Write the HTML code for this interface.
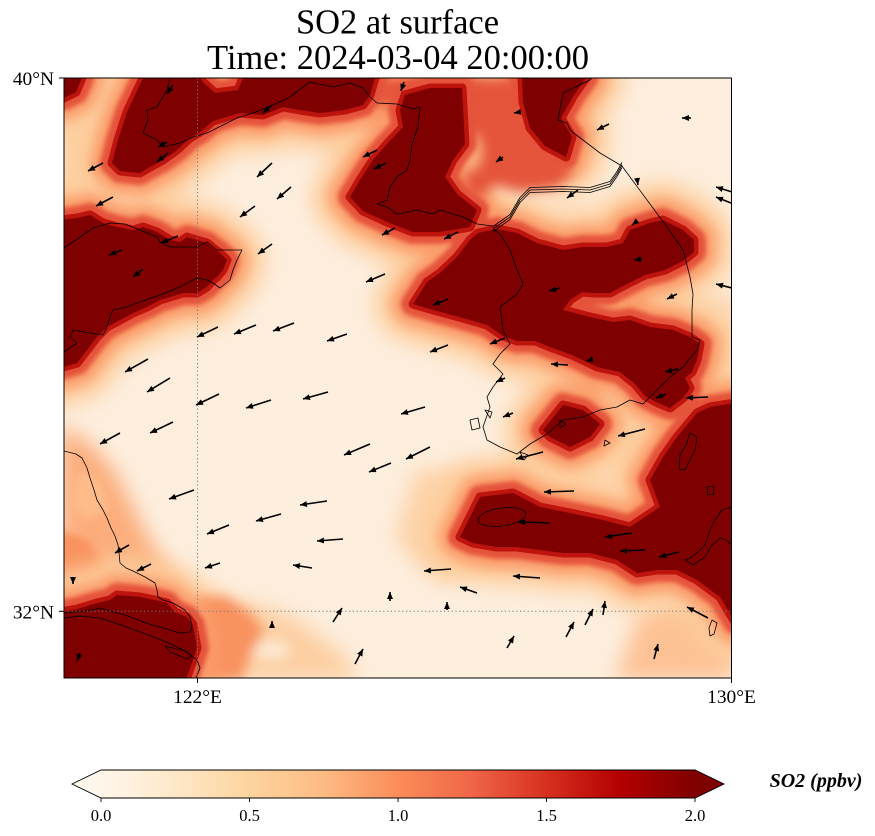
<!DOCTYPE html>
<html><head><meta charset="utf-8"><style>
html,body{margin:0;padding:0;background:#fff;}
svg{display:block;}
text{font-family:"Liberation Serif","DejaVu Serif",serif;fill:#000;}
</style></head><body>
<svg width="875" height="836" viewBox="0 0 875 836" xmlns="http://www.w3.org/2000/svg">
<defs>
<clipPath id="mc"><rect x="64" y="78" width="667.5" height="600"/></clipPath>
<filter id="b10" filterUnits="userSpaceOnUse" x="0" y="0" width="875" height="836"><feGaussianBlur stdDeviation="10"/></filter>
<filter id="b6" filterUnits="userSpaceOnUse" x="0" y="0" width="875" height="836"><feGaussianBlur stdDeviation="6"/></filter>
<filter id="b4" filterUnits="userSpaceOnUse" x="0" y="0" width="875" height="836"><feGaussianBlur stdDeviation="4"/></filter>
<filter id="b2" filterUnits="userSpaceOnUse" x="0" y="0" width="875" height="836"><feGaussianBlur stdDeviation="2.5"/></filter>
<linearGradient id="cb" x1="0" x2="1" y1="0" y2="0">
<stop offset="0" stop-color="#fff7ec"/><stop offset="0.125" stop-color="#fee8c8"/><stop offset="0.25" stop-color="#fdd49e"/><stop offset="0.375" stop-color="#fdbb84"/><stop offset="0.5" stop-color="#fc8d59"/><stop offset="0.625" stop-color="#ef6548"/><stop offset="0.75" stop-color="#d7301f"/><stop offset="0.875" stop-color="#b30000"/><stop offset="1" stop-color="#7f0000"/>
</linearGradient>
<marker id="ah" viewBox="0 0 7 6" refX="7" refY="3" markerWidth="7" markerHeight="6" markerUnits="userSpaceOnUse" orient="auto"><path d="M0,0 L7,3 L0,6 z" fill="#000"/></marker>
<g id="shapes">
<polygon points="64,78 82,78 76,92 64,98"/>
<polygon points="200,78 143,78 135,95 127,112 118,140 112,163 120,171 140,173 150,167 163,160 177,150 190,138 200,132 213,121 240,113 263,115 283,107 300,110 320,113 345,110 363,105 370,95 375,78 243,78 238,90 215,93 203,82"/>
<polygon points="405,95 430,88 462,88 465,144 453,160 445,177 457,194 477,210 470,227 440,232 413,232 387,222 363,211 350,197 360,180 373,160 387,144 403,127 400,110"/>
<polygon points="522,78 586,78 574,95 561,118 572,137 566,157 545,146 530,128 523,102"/>
<polygon points="413,304 427,282 440,273 457,257 470,240 478,233 497,229 517,233 537,243 563,250 583,247 607,247 623,243 630,230 650,223 663,220 683,230 694,240 694,252 683,261 665,270 645,275 625,285 610,293 593,293 582,292 570,300 563,310 590,317 613,322 630,320 650,327 673,330 690,337 700,344 697,360 692,372 685,378 690,388 683,398 670,408 658,403 645,396 635,384 620,372 597,367 572,355 550,347 535,341 517,341 503,336 487,325 463,318 437,311"/>
<polygon points="543,430 563,405 583,410 600,424 590,437 570,447 550,437"/>
<polygon points="460,537 480,497 513,493 540,507 570,513 603,520 630,527 660,507 650,480 663,457 677,437 697,413 710,407 735,403 735,622 720,597 697,580 677,570 657,570 637,573 617,560 590,553 563,553 540,550 517,547 497,547 473,543"/>
<polygon points="60,220 77,218 90,215 103,223 117,227 133,230 143,227 157,232 170,240 180,242 187,237 197,240 207,243 213,248 220,253 227,260 223,270 217,277 213,280 207,287 197,293 183,293 170,297 160,300 147,307 133,313 120,320 107,327 97,337 87,350 77,363 60,368"/>
<polygon points="60,612 77,609 97,603 110,600 117,595 140,597 155,600 167,603 175,612 187,617 193,625 197,648 192,663 185,682 60,682"/>
</g>
</defs>

<rect width="875" height="836" fill="#fff"/>

<g clip-path="url(#mc)">
<rect x="64" y="78" width="668" height="600" fill="#fdeedd"/>
<g filter="url(#b10)">
<polygon points="60,95 118,98 122,165 105,208 60,218" fill="#fdcf9f"/>
<polygon points="60,425 92,445 114,470 130,500 147,535 164,562 182,588 205,612 170,602 140,596 110,596 80,602 60,607" fill="#fcad7c"/>
<polygon points="230,598 290,615 345,655 358,680 230,680" fill="#fdcfa2"/>
<polygon points="640,612 700,596 735,586 735,680 615,680" fill="#fdc294"/>
<polygon points="415,470 470,468 500,560 440,585 395,540" fill="#fdd3a8"/>
<polygon points="700,300 735,290 735,410 700,400" fill="#fdd9b4"/>
</g>
<g filter="url(#b4)">
<polygon points="60,530 88,540 108,570 118,600 60,606" fill="#f9935f"/>
<polygon points="80,470 100,480 110,510 85,520 70,500" fill="#fdbc8a"/>
</g>
<use href="#shapes" fill="#fdcd9d" stroke="#fdcd9d" stroke-width="76" stroke-linejoin="round" filter="url(#b10)"/>
<g filter="url(#b6)">
<polygon points="197,598 225,596 252,614 264,632 250,655 242,680 197,680" fill="#f8925e"/>
<ellipse cx="272" cy="650" rx="18" ry="10" fill="#fde8d2"/>
</g>
<use href="#shapes" fill="#fb9c6a" stroke="#fb9c6a" stroke-width="44" stroke-linejoin="round" filter="url(#b6)"/>
<g filter="url(#b6)">
<polygon points="360,78 530,78 527,105 532,130 548,148 566,160 572,175 555,188 520,192 495,185 478,200 466,192 462,150 452,120 440,100 410,100 380,108" fill="#e5553a"/>
<ellipse cx="470" cy="152" rx="11" ry="18" fill="#fdb383"/>
</g>
<use href="#shapes" fill="#e5533a" stroke="#e5533a" stroke-width="24" stroke-linejoin="round" filter="url(#b2)"/>
<use href="#shapes" fill="#bd140e" stroke="#bd140e" stroke-width="9" stroke-linejoin="round"/>
<use href="#shapes" fill="#7f0000"/>

<g fill="none" stroke="#000" stroke-width="0.8" stroke-linejoin="round">
<path d="M64,451 L76,454 L82,458 L87,468 L90,478 L94,490 L97,500 L103,510 L107,518 L111,528 L115,536 L118,545 L119,553 L120,563 L126,568 L133,571 L145,577 L155,583 L157,590 L158,597 L163,600 L173,603 L185,610 L190,617 L192,627 L190,632 L180,633 L167,629 L153,625 L143,622 L125,615 L110,611 L100,608 L87,611 L64,613"/>
<path d="M64,618 L80,616 L100,618 L127,627 L143,633 L167,642 L187,652 L197,660 L200,668 L196,678"/>
<path d="M165,646 L185,651 L192,656 L187,659 L170,652 Z"/>
<path d="M64,248 L83,235 L93,228 L110,223 L125,224 L140,230 L157,237 L160,242 L170,247 L197,247 L207,242 L217,250 L242,250 L237,260 L233,270 L230,280 L220,288 L213,283 L207,280 L197,278 L180,287 L160,295 L140,302 L127,307 L113,310 L110,317 L107,327 L103,335 L90,333 L73,330 L70,337 L77,343 L64,352"/>
<path d="M170,78 L167,90 L157,107 L147,110 L148,120 L143,133 L157,140 L163,147 L180,143 L193,137 L207,133 L223,125 L237,118 L253,113 L273,105 L290,97 L303,87 L310,82 L333,87 L350,83 L363,88 L370,97 L377,103 L397,104 L413,109 L420,107 L418,127 L412,144 L410,160 L407,170 L397,177 L390,187 L387,200 L377,204 L387,207 L397,214 L417,210 L433,214 L440,210 L463,217 L477,224 L493,226"/>
<path d="M493,229 L500,234 L510,250 L517,270 L523,284 L517,294 L500,307 L503,330 L510,344 L500,354 L493,364 L503,374 L493,387 L487,397 L490,407 L483,427 L487,440 L500,447 L517,454 L530,444 L547,434 L563,420 L583,417 L600,410 L617,407 L630,400 L643,404 L657,390 L670,377 L683,367 L697,350 L700,340 L692,337 L692,310 L693,294 L690,277 L683,250 L667,227 L650,204 L630,177 L622,166 L600,153 L583,140 L570,130 L567,123 L558,120 L563,93 L590,80 L592,78"/>
<path transform="translate(0,-2.5)" d="M493,229 L510,217 L520,200 L530,190 L563,189 L590,190 L610,184 L617,174 L622,165"/>
<path d="M493,229 L510,217 L520,200 L530,190 L563,189 L590,190 L610,184 L617,174 L622,165"/>
<path transform="translate(0,2.5)" d="M493,229 L510,217 L520,200 L530,190 L563,189 L590,190 L610,184 L617,174 L622,165"/>
<path d="M690,433 L697,437 L695,450 L690,460 L685,470 L679,469 L680,455 L686,445 Z"/>
<path d="M732,507 L722,510 L715,520 L710,530 L705,545 L697,553 L690,558 L685,560 L693,565 L705,557 L712,545 L720,538 L726,540 L732,545"/>
<path d="M707,487 L713,486 L714,494 L708,495 Z"/>
<path d="M712,620 L717,623 L714,634 L710,636 L709,628 Z"/>
<ellipse cx="502" cy="517" rx="24" ry="9" transform="rotate(-8 502 517)"/>
<path d="M470,420 L478,418 L480,428 L472,430 Z M485,410 L492,412 L490,418 Z M520,452 L528,455 L524,460 Z M560,420 L566,424 L560,428 Z M605,440 L610,443 L604,446 Z"/>
</g>

<g stroke="#7a7a7a" stroke-width="1" stroke-dasharray="1.2 2.6" fill="none">
<line x1="197.5" y1="78" x2="197.5" y2="678"/>
<line x1="64" y1="611.3" x2="731.5" y2="611.3"/>
</g>

<g stroke="#000" stroke-width="1.6" marker-end="url(#ah)">
<line x1="173" y1="85" x2="167" y2="94"/>
<line x1="272" y1="105" x2="263" y2="113"/>
<line x1="167" y1="142" x2="158" y2="147"/>
<line x1="168" y1="153" x2="157" y2="162"/>
<line x1="103" y1="163" x2="88" y2="171"/>
<line x1="272" y1="163" x2="257" y2="177"/>
<line x1="291" y1="187" x2="277" y2="199"/>
<line x1="255" y1="206" x2="240" y2="217"/>
<line x1="113" y1="197" x2="96" y2="206"/>
<line x1="377" y1="150" x2="363" y2="157"/>
<line x1="386" y1="163" x2="374" y2="169"/>
<line x1="395" y1="228" x2="382" y2="235"/>
<line x1="178" y1="236" x2="161" y2="243"/>
<line x1="272" y1="244" x2="258" y2="254"/>
<line x1="122" y1="250" x2="109" y2="255"/>
<line x1="143" y1="269" x2="133" y2="277"/>
<line x1="385" y1="274" x2="366" y2="282"/>
<line x1="218" y1="327" x2="197" y2="337"/>
<line x1="256" y1="325" x2="234" y2="334"/>
<line x1="294" y1="323" x2="273" y2="331"/>
<line x1="347" y1="334" x2="327" y2="341"/>
<line x1="148" y1="359" x2="125" y2="372"/>
<line x1="170" y1="378" x2="147" y2="392"/>
<line x1="219" y1="394" x2="196" y2="405"/>
<line x1="271" y1="400" x2="246" y2="408"/>
<line x1="328" y1="392" x2="303" y2="399"/>
<line x1="425" y1="407" x2="401" y2="414"/>
<line x1="120" y1="433" x2="100" y2="444"/>
<line x1="173" y1="422" x2="150" y2="433"/>
<line x1="370" y1="444" x2="344" y2="455"/>
<line x1="430" y1="447" x2="406" y2="459"/>
<line x1="391" y1="463" x2="369" y2="472"/>
<line x1="194" y1="490" x2="169" y2="499"/>
<line x1="327" y1="501" x2="300" y2="505"/>
<line x1="281" y1="514" x2="256" y2="521"/>
<line x1="229" y1="525" x2="207" y2="534"/>
<line x1="343" y1="539" x2="317" y2="541"/>
<line x1="129" y1="545" x2="115" y2="553"/>
<line x1="151" y1="564" x2="137" y2="571"/>
<line x1="220" y1="563" x2="205" y2="568"/>
<line x1="312" y1="568" x2="293" y2="565"/>
<line x1="451" y1="569" x2="424" y2="571"/>
<line x1="477" y1="593" x2="460" y2="587"/>
<line x1="390" y1="601" x2="390" y2="592"/>
<line x1="447" y1="610" x2="447" y2="602"/>
<line x1="333" y1="622" x2="342" y2="608"/>
<line x1="355" y1="664" x2="363" y2="649"/>
<line x1="73" y1="577" x2="73" y2="584"/>
<line x1="272" y1="627" x2="272" y2="621"/>
<line x1="80" y1="653" x2="77" y2="661"/>
<line x1="513" y1="413" x2="503" y2="417"/>
<line x1="666" y1="394" x2="656" y2="398"/>
<line x1="708" y1="397" x2="686" y2="398"/>
<line x1="645" y1="429" x2="618" y2="436"/>
<line x1="543" y1="452" x2="516" y2="459"/>
<line x1="574" y1="491" x2="544" y2="492"/>
<line x1="549" y1="523" x2="518" y2="522"/>
<line x1="632" y1="533" x2="605" y2="537"/>
<line x1="645" y1="550" x2="620" y2="551"/>
<line x1="679" y1="552" x2="659" y2="557"/>
<line x1="540" y1="578" x2="513" y2="576"/>
<line x1="585" y1="625" x2="593" y2="609"/>
<line x1="603" y1="615" x2="605" y2="601"/>
<line x1="566" y1="637" x2="574" y2="622"/>
<line x1="507" y1="648" x2="514" y2="636"/>
<line x1="654" y1="659" x2="658" y2="644"/>
<line x1="708" y1="618" x2="687" y2="607"/>
<line x1="404" y1="82" x2="401" y2="91"/>
<line x1="520" y1="112" x2="514" y2="113"/>
<line x1="609" y1="124" x2="597" y2="130"/>
<line x1="691" y1="118" x2="682" y2="118"/>
<line x1="503" y1="157" x2="496" y2="162"/>
<line x1="637" y1="178" x2="638" y2="185"/>
<line x1="578" y1="190" x2="567" y2="198"/>
<line x1="732" y1="192" x2="716" y2="187"/>
<line x1="731" y1="203" x2="716" y2="197"/>
<line x1="637" y1="221" x2="632" y2="225"/>
<line x1="458" y1="232" x2="444" y2="239"/>
<line x1="642" y1="259" x2="634" y2="260"/>
<line x1="560" y1="288" x2="549" y2="291"/>
<line x1="732" y1="288" x2="716" y2="284"/>
<line x1="677" y1="294" x2="667" y2="299"/>
<line x1="448" y1="299" x2="433" y2="305"/>
<line x1="448" y1="345" x2="430" y2="352"/>
<line x1="505" y1="338" x2="490" y2="344"/>
<line x1="568" y1="365" x2="551" y2="364"/>
<line x1="593" y1="359" x2="586" y2="361"/>
<line x1="678" y1="369" x2="665" y2="372"/>
<line x1="505" y1="378" x2="496" y2="382"/>
</g>
</g>

<rect x="64" y="78" width="667.5" height="600" fill="none" stroke="#000" stroke-width="1"/>
<g stroke="#000" stroke-width="1">
<line x1="59" y1="78" x2="64" y2="78"/>
<line x1="59" y1="611.3" x2="64" y2="611.3"/>
<line x1="197.5" y1="678" x2="197.5" y2="683"/>
<line x1="731.5" y1="678" x2="731.5" y2="683"/>
</g>
<g font-size="19.4">
<text x="54" y="85" text-anchor="end">40°N</text>
<text x="54" y="618.5" text-anchor="end">32°N</text>
<text x="197.5" y="703" text-anchor="middle">122°E</text>
<text x="731.5" y="703" text-anchor="middle">130°E</text>
</g>

<g font-size="34.5" text-anchor="middle">
<text x="397.5" y="33.5">SO2 at surface</text>
<text x="398" y="69">Time: 2024-03-04 20:00:00</text>
</g>

<polygon points="72,784 101,770 101,798" fill="#fff7ec"/>
<polygon points="695,770 724,784 695,798" fill="#7f0000"/>
<rect x="101" y="770" width="594" height="28" fill="url(#cb)"/>
<polygon points="72,784 101,770 695,770 724,784 695,798 101,798" fill="none" stroke="#000" stroke-width="0.9"/>
<g stroke="#000" stroke-width="0.9">
<line x1="101" y1="798" x2="101" y2="802"/>
<line x1="249.5" y1="798" x2="249.5" y2="802"/>
<line x1="398" y1="798" x2="398" y2="802"/>
<line x1="546.5" y1="798" x2="546.5" y2="802"/>
<line x1="695" y1="798" x2="695" y2="802"/>
</g>
<g font-size="16.5" text-anchor="middle">
<text x="101" y="821">0.0</text>
<text x="249.5" y="821">0.5</text>
<text x="398" y="821">1.0</text>
<text x="546.5" y="821">1.5</text>
<text x="695" y="821">2.0</text>
</g>
<text x="816" y="787" font-size="20" font-weight="bold" font-style="italic" text-anchor="middle">SO2 (ppbv)</text>
</svg>
</body></html>
